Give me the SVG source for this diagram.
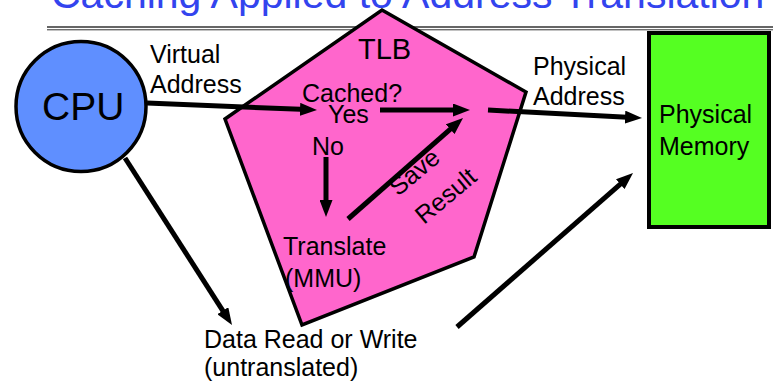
<svg xmlns="http://www.w3.org/2000/svg" width="775" height="383" viewBox="0 0 775 383">
  <style>
    text { font-family: "Liberation Sans", Arial, sans-serif; fill: #000; }
    .lbl { font-size: 25px; }
    .title { font-size: 41px; fill: #3344ee; }
    .conn { stroke: #000; stroke-width: 5; fill: none; marker-end: url(#head); }
    .rule { stroke: #333; }
  </style>
  <defs>
    <marker id="head" markerUnits="userSpaceOnUse" markerWidth="17" markerHeight="13" refX="7" refY="6.5" orient="auto">
      <path d="M0,0 L17,6.5 L0,13 z" fill="#000"/>
    </marker>
  </defs>
  <rect width="775" height="383" fill="#fff"/>

  <!-- heading and double rule -->
  <text class="title" x="51" y="8">Caching Applied to Address Translation</text>
  <line class="rule" x1="47" y1="27" x2="773" y2="27" stroke-width="1.6"/>
  <line class="rule" x1="47" y1="29.8" x2="773" y2="29.8" stroke-width="1"/>

  <!-- TLB -->
  <g id="tlb">
    <polygon points="382,10 526,92 474,257 302,325 225,119" fill="#ff66cc" stroke="#000" stroke-width="3.5" stroke-linejoin="miter"/>
    <text x="358" y="59" font-size="29">TLB</text>
    <text class="lbl" x="302" y="102">Cached?</text>
    <text class="lbl" x="328" y="123">Yes</text>
    <text class="lbl" x="312" y="155">No</text>
    <text class="lbl" x="283" y="255">Translate</text>
    <text class="lbl" x="285" y="287">(MMU)</text>
    <text class="lbl" transform="translate(398,197) rotate(-40)">Save</text>
    <text class="lbl" transform="translate(424,225) rotate(-40)">Result</text>
  </g>

  <!-- CPU -->
  <g id="cpu">
    <circle cx="81" cy="106.5" r="65" fill="#5f8fff" stroke="#000" stroke-width="3.5"/>
    <text x="42" y="120" font-size="39">CPU</text>
  </g>

  <!-- Physical memory -->
  <g id="memory">
    <rect x="649" y="33" width="120" height="194" fill="#55ff22" stroke="#000" stroke-width="4"/>
    <text class="lbl" x="659" y="123">Physical</text>
    <text class="lbl" x="659" y="155">Memory</text>
  </g>

  <!-- free labels -->
  <g id="labels">
    <text class="lbl" x="150" y="63">Virtual</text>
    <text class="lbl" x="150" y="93">Address</text>
    <text class="lbl" x="533" y="75">Physical</text>
    <text class="lbl" x="533" y="105">Address</text>
    <text class="lbl" x="204" y="348">Data Read or Write</text>
    <text class="lbl" x="204" y="376">(untranslated)</text>
  </g>

  <!-- connectors -->
  <g id="connectors">
    <line class="conn" x1="147" y1="103" x2="307" y2="109.6"/>
    <line class="conn" x1="380" y1="110" x2="460" y2="110"/>
    <line class="conn" x1="488" y1="110" x2="632" y2="117.5"/>
    <line class="conn" x1="326" y1="157" x2="326" y2="207"/>
    <line class="conn" x1="348" y1="219" x2="455.5" y2="124.6"/>
    <line class="conn" x1="125" y1="158" x2="226.6" y2="316.6"/>
    <line class="conn" x1="457" y1="327" x2="625.5" y2="179.6"/>
  </g>
</svg>
